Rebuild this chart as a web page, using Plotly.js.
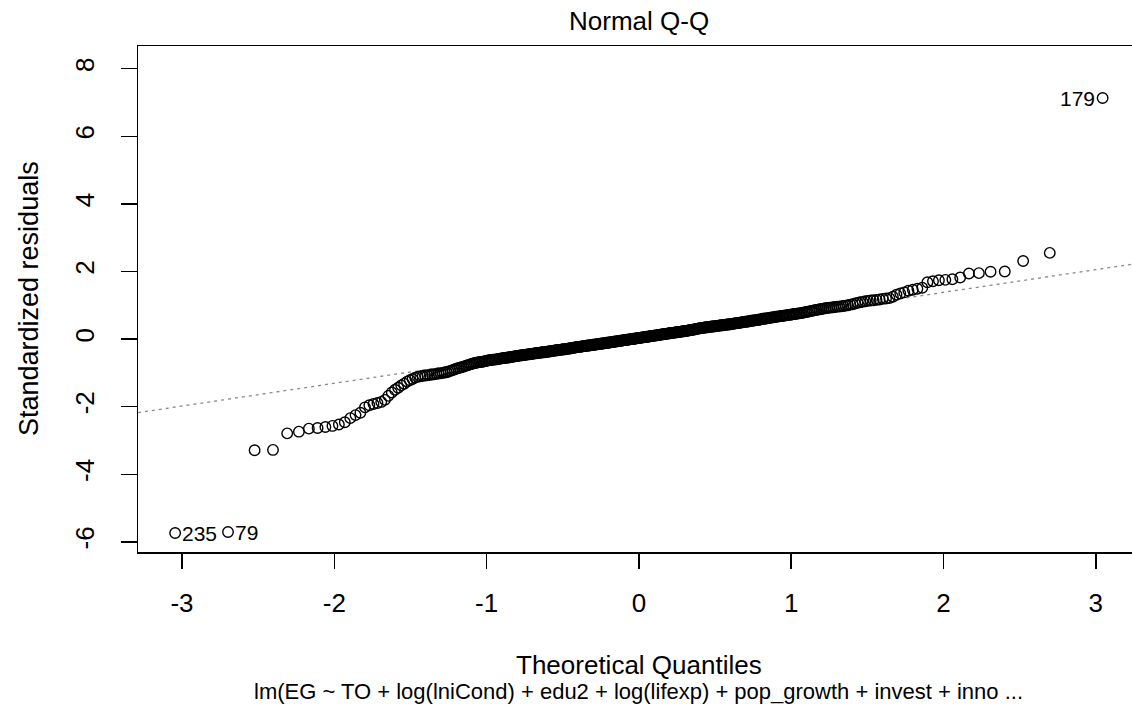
<!DOCTYPE html>
<html>
<head>
<meta charset="utf-8">
<script src="https://cdn.plot.ly/plotly-3.0.1.min.js"></script>
<style>html,body{margin:0;padding:0;background:#fff;}#chart{width:1132px;height:720px;}</style>
</head>
<body>
<div id="chart"></div>
<script>
// Sorted standardized residuals (n = 430)
const stdResiduals = [
-5.74,-5.71,-3.29,-3.28,-2.79,-2.74,-2.65,-2.63,-2.60,-2.57,
-2.53,-2.46,-2.34,-2.25,-2.18,-2.02,-1.96,-1.92,-1.89,-1.86,
-1.80,-1.68,-1.58,-1.50,-1.44,-1.37,-1.32,-1.26,-1.22,-1.18,
-1.14,-1.12,-1.10,-1.09,-1.08,-1.07,-1.06,-1.05,-1.04,-1.03,
-1.02,-1.01,-1.00,-0.99,-0.98,-0.96,-0.94,-0.92,-0.90,-0.88,
-0.86,-0.85,-0.83,-0.82,-0.80,-0.78,-0.77,-0.75,-0.74,-0.72,
-0.71,-0.70,-0.69,-0.68,-0.68,-0.67,-0.66,-0.65,-0.64,-0.63,
-0.62,-0.62,-0.61,-0.61,-0.60,-0.60,-0.59,-0.58,-0.58,-0.57,
-0.56,-0.56,-0.55,-0.55,-0.54,-0.54,-0.53,-0.52,-0.52,-0.51,
-0.50,-0.50,-0.49,-0.49,-0.48,-0.48,-0.47,-0.47,-0.46,-0.46,
-0.45,-0.45,-0.44,-0.44,-0.43,-0.43,-0.42,-0.42,-0.41,-0.41,
-0.41,-0.40,-0.40,-0.39,-0.39,-0.39,-0.38,-0.38,-0.37,-0.37,
-0.36,-0.36,-0.35,-0.35,-0.34,-0.34,-0.33,-0.33,-0.32,-0.32,
-0.32,-0.31,-0.31,-0.30,-0.30,-0.30,-0.29,-0.29,-0.28,-0.28,
-0.27,-0.27,-0.26,-0.26,-0.25,-0.25,-0.24,-0.24,-0.23,-0.23,
-0.23,-0.22,-0.22,-0.21,-0.21,-0.21,-0.20,-0.20,-0.19,-0.19,
-0.19,-0.18,-0.18,-0.17,-0.17,-0.17,-0.16,-0.16,-0.15,-0.15,
-0.15,-0.14,-0.14,-0.13,-0.13,-0.13,-0.12,-0.12,-0.11,-0.11,
-0.11,-0.10,-0.10,-0.09,-0.09,-0.09,-0.08,-0.08,-0.07,-0.07,
-0.07,-0.06,-0.06,-0.05,-0.05,-0.05,-0.04,-0.04,-0.03,-0.03,
-0.03,-0.02,-0.02,-0.01,-0.01,-0.01,0.00,0.00,0.01,0.01,
0.01,0.02,0.02,0.03,0.03,0.03,0.04,0.04,0.05,0.05,
0.05,0.06,0.06,0.07,0.07,0.07,0.08,0.08,0.09,0.09,
0.09,0.10,0.10,0.11,0.11,0.11,0.12,0.12,0.13,0.13,
0.13,0.14,0.14,0.15,0.15,0.15,0.16,0.16,0.17,0.17,
0.17,0.18,0.18,0.19,0.19,0.19,0.20,0.20,0.21,0.21,
0.21,0.22,0.22,0.23,0.23,0.23,0.24,0.24,0.25,0.25,
0.26,0.26,0.27,0.27,0.28,0.28,0.29,0.29,0.30,0.31,
0.31,0.32,0.32,0.33,0.33,0.33,0.34,0.34,0.35,0.35,
0.35,0.36,0.36,0.37,0.37,0.37,0.38,0.38,0.39,0.39,
0.39,0.40,0.40,0.41,0.41,0.41,0.42,0.42,0.43,0.43,
0.43,0.44,0.44,0.45,0.45,0.46,0.46,0.47,0.47,0.48,
0.48,0.49,0.49,0.50,0.50,0.51,0.51,0.52,0.52,0.53,
0.54,0.54,0.55,0.55,0.56,0.56,0.57,0.57,0.58,0.59,
0.60,0.60,0.61,0.61,0.62,0.62,0.63,0.64,0.64,0.65,
0.66,0.66,0.67,0.67,0.68,0.68,0.69,0.70,0.70,0.71,
0.72,0.72,0.73,0.74,0.74,0.75,0.76,0.76,0.77,0.78,
0.79,0.80,0.81,0.82,0.83,0.84,0.85,0.86,0.87,0.88,
0.89,0.90,0.91,0.92,0.93,0.93,0.94,0.95,0.96,0.96,
0.97,0.98,0.99,1.00,1.02,1.03,1.05,1.07,1.09,1.10,
1.12,1.13,1.14,1.15,1.16,1.17,1.19,1.20,1.21,1.25,
1.31,1.35,1.38,1.43,1.46,1.49,1.52,1.68,1.71,1.74,
1.75,1.77,1.82,1.94,1.95,1.99,2.00,2.31,2.55,7.13
];

// Identified observations (rank in sorted order -> case label)
const idRanks = [1, 2, 430];
const idLabels = ["235", "79", "179"];

// Tick labels
const xTickVals = [-3, -2, -1, 0, 1, 2, 3];
const xTickLabels = ["-3", "-2", "-1", "0", "1", "2", "3"];
const yTickVals = [-6, -4, -2, 0, 2, 4, 6, 8];
const yTickLabels = ["-6", "-4", "-2", "0", "2", "4", "6", "8"];

const mainTitle = "Normal Q-Q";
const xLabel = "Theoretical Quantiles";
const yLabel = "Standardized residuals";
const subTitle = "lm(EG ~ TO + log(lniCond) + edu2 + log(lifexp) + pop_growth + invest + inno ...";

// ---- statistics (qqnorm / qqline as in R) ----
function qnorm(p){
  const a=[-3.969683028665376e+01,2.209460984245205e+02,-2.759285104469687e+02,1.383577518672690e+02,-3.066479806614716e+01,2.506628277459239e+00];
  const b=[-5.447609879822406e+01,1.615858368580409e+02,-1.556989798598866e+02,6.680131188771972e+01,-1.328068155288572e+01];
  const c=[-7.784894002430293e-03,-3.223964580411365e-01,-2.400758277161838e+00,-2.549732539343734e+00,4.374664141464968e+00,2.938163982698783e+00];
  const d=[7.784695709041462e-03,3.224671290700398e-01,2.445134137142996e+00,3.754408661907416e+00];
  const pl=0.02425, ph=1-pl; let q,r;
  if(p<pl){q=Math.sqrt(-2*Math.log(p));return (((((c[0]*q+c[1])*q+c[2])*q+c[3])*q+c[4])*q+c[5])/((((d[0]*q+d[1])*q+d[2])*q+d[3])*q+1);}
  if(p<=ph){q=p-0.5;r=q*q;return (((((a[0]*r+a[1])*r+a[2])*r+a[3])*r+a[4])*r+a[5])*q/(((((b[0]*r+b[1])*r+b[2])*r+b[3])*r+b[4])*r+1);}
  q=Math.sqrt(-2*Math.log(1-p));return -(((((c[0]*q+c[1])*q+c[2])*q+c[3])*q+c[4])*q+c[5])/((((d[0]*q+d[1])*q+d[2])*q+d[3])*q+1);
}
function quantile7(sorted,p){
  const h=(sorted.length-1)*p, lo=Math.floor(h);
  const hi=Math.min(lo+1,sorted.length-1);
  return sorted[lo]+(h-lo)*(sorted[hi]-sorted[lo]);
}
const n = stdResiduals.length;
const theo = stdResiduals.map((_,i)=>qnorm((i+1-0.5)/n));
const yq = [quantile7(stdResiduals,0.25), quantile7(stdResiduals,0.75)];
const xq = [qnorm(0.25), qnorm(0.75)];
const slope = (yq[1]-yq[0])/(xq[1]-xq[0]);
const intercept = yq[0]-slope*xq[0];

const xRange = [-3.289, 3.238];
const yRange = [-6.30, 8.67];

const FONT = 'Arial, "Liberation Sans", sans-serif';
const fsTick = 26, fsTitle = 26, fsSub = 22, fsYlab = 27, fsId = 21;

const traces = [
  {
    x: xRange, y: xRange.map(v=>intercept+slope*v),
    mode: 'lines', type: 'scatter', hoverinfo: 'skip',
    line: {color: '#8a8a8a', width: 1.3, dash: '3px,4px'}
  },
  {
    x: theo, y: stdResiduals, mode: 'markers', type: 'scatter',
    marker: {symbol: 'circle-open', size: 10.5, color: '#000', line: {width: 1.4, color: '#000'}}
  }
];

const annotations = idRanks.map((rk,k)=>{
  const xv = theo[rk-1], yv = stdResiduals[rk-1];
  const left = xv < 0;
  return {x: xv, y: yv, xref: 'x', yref: 'y', text: idLabels[k], showarrow: false,
    xanchor: left ? 'left' : 'right', yanchor: 'middle', xshift: left ? 5 : -6,
    font: {family: FONT, size: fsId, color: '#000'}};
});
annotations.push(
  {x: 0, xref: 'x', y: 1, yref: 'paper', yanchor: 'middle', yshift: 25, text: mainTitle, showarrow: false,
   font: {family: FONT, size: fsTitle, color: '#000'}},
  {x: 0, xref: 'x', y: 0, yref: 'paper', yanchor: 'middle', yshift: -113, text: xLabel, showarrow: false,
   font: {family: FONT, size: fsTitle, color: '#000'}},
  {x: 0, xref: 'x', y: 0, yref: 'paper', yanchor: 'middle', yshift: -139, text: subTitle, showarrow: false,
   font: {family: FONT, size: fsSub, color: '#000'}},
  {x: 0, xref: 'paper', xshift: -109, y: 0.5, yref: 'paper', xanchor: 'center', yanchor: 'middle', textangle: -90,
   text: yLabel, showarrow: false, font: {family: FONT, size: fsYlab, color: '#000'}}
);

const layout = {
  width: 1132, height: 720,
  margin: {l: 138, r: 0, t: 46, b: 168, pad: 0},
  paper_bgcolor: '#fff', plot_bgcolor: '#fff',
  showlegend: false,
  font: {family: FONT, size: fsTick, color: '#000'},
  xaxis: {
    range: xRange, showgrid: false, zeroline: false,
    showline: true, mirror: true, linecolor: '#000', linewidth: 1.5,
    ticks: 'outside', ticklen: 15, tickwidth: 1.5, tickcolor: '#000',
    tickvals: xTickVals, ticktext: xTickLabels,
    tickfont: {family: FONT, size: fsTick, color: '#000'}, ticklabelstandoff: 12
  },
  yaxis: {
    range: yRange, showgrid: false, zeroline: false,
    showline: true, mirror: false, linecolor: '#000', linewidth: 1.5,
    ticks: 'outside', ticklen: 16, tickwidth: 1.5, tickcolor: '#000',
    tickvals: yTickVals, ticktext: yTickLabels, tickangle: -90,
    tickfont: {family: FONT, size: fsTick, color: '#000'}, ticklabelstandoff: 16
  },
  annotations: annotations
};

Plotly.newPlot('chart', traces, layout, {staticPlot: true, displayModeBar: false});
</script>
</body>
</html>
